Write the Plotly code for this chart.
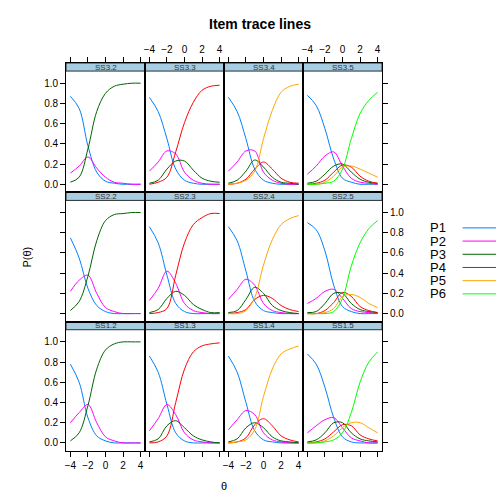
import plotly.graph_objects as go

theta = [-4, -3, -2, -1, 0, 1, 2, 3, 4]

# category probabilities, by item name
items = {
    "SS3.2": [[.87, .75, .38, .12, .03, .01, 0, 0, 0],
              [.11, .18, .27, .16, .07, .02, .01, 0, 0],
              [.02, .07, .35, .72, .90, .97, .99, 1, 1]],
    "SS3.3": [[.86, .72, .45, .15, .04, .01, 0, 0, 0],
              [.13, .22, .33, .30, .12, .04, .01, 0, 0],
              [.01, .04, .15, .23, .23, .14, .06, .03, .02],
              [0, .02, .07, .32, .61, .81, .93, .97, .98]],
    "SS3.4": [[.86, .72, .45, .15, .04, .01, 0, 0, 0],
              [.13, .22, .33, .33, .12, .04, .01, 0, 0],
              [.01, .04, .13, .24, .17, .07, .02, .01, 0],
              [0, .01, .05, .15, .22, .15, .06, .02, .01],
              [0, .01, .04, .13, .45, .73, .91, .97, .99]],
    "SS3.5": [[.88, .78, .55, .25, .06, .02, 0, 0, 0],
              [.10, .18, .28, .32, .18, .06, .02, .01, 0],
              [.01, .03, .10, .18, .20, .12, .05, .02, .01],
              [0, .01, .04, .12, .19, .17, .08, .03, .01],
              [0, 0, .02, .08, .17, .18, .15, .11, .07],
              [0, 0, .01, .03, .15, .45, .70, .83, .91]],
    "SS2.2": [[.75, .55, .25, .08, .02, 0, 0, 0, 0],
              [.22, .33, .38, .20, .06, .02, 0, 0, 0],
              [.03, .12, .37, .72, .92, .98, .99, 1, 1]],
    "SS2.3": [[.86, .70, .38, .10, .02, 0, 0, 0, 0],
              [.13, .25, .42, .30, .10, .03, .01, 0, 0],
              [.01, .04, .15, .22, .18, .09, .04, .01, .01],
              [0, .01, .05, .38, .70, .88, .95, .99, .99]],
    "SS2.4": [[.86, .72, .42, .12, .03, .01, 0, 0, 0],
              [.14, .24, .34, .28, .10, .03, .01, 0, 0],
              [.01, .03, .14, .26, .20, .08, .03, .01, 0],
              [0, .01, .04, .14, .18, .15, .08, .04, .02],
              [0, 0, .03, .16, .48, .73, .88, .94, .97]],
    "SS2.5": [[.90, .83, .62, .28, .07, .02, 0, 0, 0],
              [.10, .15, .22, .24, .15, .05, .02, .01, 0],
              [.01, .02, .10, .20, .20, .10, .04, .02, .01],
              [0, 0, .03, .11, .21, .17, .07, .03, .01],
              [0, 0, .01, .05, .17, .19, .16, .10, .06],
              [0, 0, 0, .02, .15, .47, .70, .84, .92]],
    "SS1.2": [[.78, .60, .25, .07, .02, 0, 0, 0, 0],
              [.20, .30, .38, .20, .06, .02, 0, 0, 0],
              [.02, .10, .37, .73, .92, .98, 1, 1, 1]],
    "SS1.3": [[.86, .70, .38, .10, .02, 0, 0, 0, 0],
              [.12, .24, .38, .28, .10, .03, .01, 0, 0],
              [.01, .04, .17, .22, .15, .07, .03, .01, 0],
              [0, .01, .07, .40, .73, .90, .96, .98, .99]],
    "SS1.4": [[.86, .70, .40, .12, .03, .01, 0, 0, 0],
              [.13, .23, .32, .28, .10, .03, .01, 0, 0],
              [.01, .04, .15, .20, .15, .06, .02, .01, 0],
              [0, .01, .05, .18, .24, .17, .07, .03, .01],
              [0, .01, .03, .13, .46, .73, .88, .93, .96]],
    "SS1.5": [[.88, .78, .55, .25, .06, .01, 0, 0, 0],
              [.10, .17, .23, .25, .15, .05, .02, 0, 0],
              [.01, .03, .10, .20, .20, .10, .04, .02, .01],
              [0, .01, .04, .11, .18, .17, .08, .04, .02],
              [0, 0, .02, .07, .15, .20, .20, .15, .10],
              [0, 0, .01, .03, .10, .30, .60, .80, .90]],
}
layout_rows = [["SS3.2", "SS3.3", "SS3.4", "SS3.5"],
               ["SS2.2", "SS2.3", "SS2.4", "SS2.5"],
               ["SS1.2", "SS1.3", "SS1.4", "SS1.5"]]
cat_names = ["P1", "P2", "P3", "P4", "P5", "P6"]
colors = ["#0080ff", "#ff00ff", "#006400", "#ff0000", "#ffa500", "#00ff00"]

fig = go.Figure()
ff = "Liberation Sans, Arial"
font = dict(family=ff, size=10, color="black")
shapes, annots = [], []
ncol, nrow = 4, 3
for r in range(nrow):
    for c in range(ncol):
        n = r * ncol + c + 1
        sx = "" if n == 1 else str(n)
        name = layout_rows[r][c]
        for k, vals in enumerate(items[name]):
            fig.add_trace(go.Scatter(x=theta, y=vals, mode="lines", line_shape="spline",
                                     line=dict(color=colors[k], width=1), showlegend=False,
                                     xaxis="x" + sx, yaxis="y" + sx))
        xd = [c / ncol, (c + 1) / ncol]
        yd = [1 - (r + 1) / nrow, 1 - r / nrow]
        xa = dict(domain=xd, range=[-4.5, 4.5], anchor="y" + sx, showline=True, mirror=True,
                  linecolor="black", linewidth=0.8, showgrid=False, zeroline=False,
                  tickvals=[-4, -2, 0, 2, 4], ticks="", showticklabels=False, automargin=False,
                  ticklen=5, tickcolor="black", tickfont=font)
        if r == 0:
            xa.update(side="top", ticks="outside", showticklabels=(c % 2 == 1))
        elif r == nrow - 1:
            xa.update(side="bottom", ticks="outside", showticklabels=(c % 2 == 0))
        ya = dict(domain=yd, range=[-0.08, 1.2], anchor="x" + sx, showline=True, mirror=True,
                  linecolor="black", linewidth=0.8, showgrid=False, zeroline=False,
                  tickvals=[0, .2, .4, .6, .8, 1.0], ticktext=["0.0", "0.2", "0.4", "0.6", "0.8", "1.0"],
                  ticks="", showticklabels=False, ticklen=5, tickcolor="black", tickfont=font,
                  automargin=False)
        if c == 0:
            ya.update(side="left", ticks="outside", showticklabels=(r != 1))
        elif c == ncol - 1:
            ya.update(side="right", ticks="outside", showticklabels=(r == 1))
        fig.layout["xaxis" + sx] = xa
        fig.layout["yaxis" + sx] = ya
        shapes.append(dict(type="rect", xref="x" + sx + " domain", yref="y" + sx,
                           x0=0, x1=1, y0=1.12, y1=1.2, fillcolor="#a6cde2",
                           line=dict(color="black", width=0.8), layer="below"))
        annots.append(dict(xref="x" + sx + " domain", yref="y" + sx, x=0.5, y=1.16,
                           text=name, showarrow=False, font=dict(family=ff, size=8, color="#333")))

# legend key on the right
for k, nm in enumerate(cat_names):
    yy = 0.575 - k * 0.034
    annots.append(dict(xref="paper", yref="paper", x=1.145, y=yy, text=nm, showarrow=False,
                       xanchor="left", yanchor="middle", font=dict(family=ff, size=13, color="black")))
    shapes.append(dict(type="line", xref="paper", yref="paper", x0=1.255, x1=1.37, y0=yy, y1=yy,
                       line=dict(color=colors[k], width=1)))

annots.append(dict(xref="paper", yref="paper", x=-0.15, y=0.5, text="P(θ)", showarrow=False,
                   textangle=-90, font=dict(family=ff, size=11, color="black")))
annots.append(dict(xref="paper", yref="paper", x=0.5, y=-0.11, text="θ", showarrow=False,
                   font=dict(family=ff, size=11, color="black")))

fig.update_layout(width=504, height=504, margin=dict(l=58, r=130, t=55, b=61),
                  paper_bgcolor="white", plot_bgcolor="white", shapes=shapes, annotations=annots,
                  title=dict(text="<b>Item trace lines</b>", x=0.5, xanchor="center", y=0.978,
                             font=dict(family=ff, size=14, color="black")))
fig.write_html("out.html")
